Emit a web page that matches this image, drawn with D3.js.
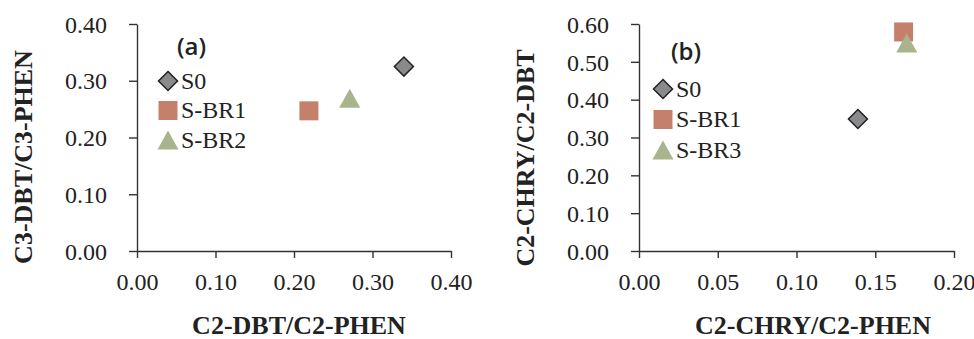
<!DOCTYPE html>
<html>
<head>
<meta charset="utf-8">
<script src="https://cdn.jsdelivr.net/npm/d3@7"></script>
<style>
  body { margin: 0; background: #fff; }
  svg { display: block; }
  .tick text { font-family: "Liberation Serif", "Times New Roman", serif; font-size: 24px; fill: #222; }
  .axis-title { font-family: "Liberation Serif", "Times New Roman", serif; font-size: 26px; font-weight: bold; fill: #222; }
  .legend text { font-family: "Liberation Serif", "Times New Roman", serif; font-size: 24px; fill: #222; }
  .panel-tag { font-family: "Open Sans", sans-serif; font-size: 24px; font-weight: 600; fill: #222; }
</style>
</head>
<body>
<div id="chart"></div>
<script>
const width = 974,
  height = 339;

// panel (a)
const namesA = ["S0", "S-BR1", "S-BR2"];
const xValuesA = [0.34, 0.219, 0.271];
const yValuesA = [0.325, 0.247, 0.269];
const xTicksA = [0, 0.1, 0.2, 0.3, 0.4];
const yTicksA = [0, 0.1, 0.2, 0.3, 0.4];

// panel (b)
const namesB = ["S0", "S-BR1", "S-BR3"];
const xValuesB = [0.139, 0.168, 0.17];
const yValuesB = [0.349, 0.579, 0.55];
const xTicksB = [0, 0.05, 0.1, 0.15, 0.2];
const yTicksB = [0, 0.1, 0.2, 0.3, 0.4, 0.5, 0.6];

const markerShapes = ["diamond", "square", "triangle"];
const markerFills = ["#8a8a8c", "#c4806b", "#a9b48c"];

const svg = d3
  .select("#chart")
  .append("svg")
  .attr("width", width)
  .attr("height", height);

function markerPath(shape) {
  if (shape === "diamond") return "M0,-10L10,0L0,10L-10,0Z";
  if (shape === "square") return "M-9.5,-9.5H9.5V9.5H-9.5Z";
  // triangle centred on its bounding box
  return "M0,-9.5L10.5,9.5L-10.5,9.5Z";
}

function drawMarker(g, shape, fill) {
  g.append("path")
    .attr("d", markerPath(shape))
    .attr("fill", fill)
    .attr("stroke", shape === "diamond" ? "#222" : "none")
    .attr("stroke-width", shape === "diamond" ? 1.6 : 0)
    .attr("transform", shape === "diamond" ? "scale(0.95)" : null);
}

function drawPanel(p) {
  const xScale = d3.scaleLinear().domain(p.xDomain).range([p.left, p.right]);
  const yScale = d3.scaleLinear().domain(p.yDomain).range([p.bottom, p.top]);

  const xAxis = d3.axisBottom(xScale)
    .tickValues(p.xTicks)
    .tickFormat(d3.format(".2f"))
    .tickSize(7)
    .tickSizeOuter(0)
    .tickPadding(10);
  const yAxis = d3.axisLeft(yScale)
    .tickValues(p.yTicks)
    .tickFormat(d3.format(".2f"))
    .tickSize(8)
    .tickSizeOuter(0)
    .tickPadding(22);

  const gx = svg.append("g")
    .attr("class", "axis x-axis")
    .attr("transform", `translate(0,${p.bottom})`)
    .call(xAxis);
  const gy = svg.append("g")
    .attr("class", "axis y-axis")
    .attr("transform", `translate(${p.left},0)`)
    .call(yAxis);

  [gx, gy].forEach(g => {
    g.select(".domain").attr("stroke", "#333").attr("stroke-width", 1.4);
    g.selectAll(".tick line").attr("stroke", "#333").attr("stroke-width", 1.4);
  });
  gx.selectAll(".tick text").attr("dy", "0.9em");
  gy.selectAll(".tick text").attr("dy", "0.34em").attr("text-anchor", "end");

  // axis titles
  svg.append("text")
    .attr("class", "axis-title")
    .attr("x", p.xTitleX)
    .attr("y", 334)
    .attr("text-anchor", "middle")
    .text(p.xTitle);
  svg.append("text")
    .attr("class", "axis-title")
    .attr("transform", `translate(${p.yTitleX},${p.yTitleY}) rotate(-90)`)
    .attr("text-anchor", "middle")
    .attr("dy", "0.35em")
    .text(p.yTitle);

  // points
  p.names.forEach((name, i) => {
    const g = svg.append("g")
      .attr("class", "dot")
      .attr("transform", `translate(${xScale(p.xValues[i])},${yScale(p.yValues[i])})`);
    drawMarker(g, markerShapes[i], markerFills[i]);
  });

  // legend
  svg.append("text")
    .attr("class", "panel-tag")
    .attr("x", p.tagX)
    .attr("y", p.tagY)
    .text(p.tag);

  const legend = svg.append("g").attr("class", "legend");
  p.names.forEach((name, i) => {
    const row = legend.append("g")
      .attr("transform", `translate(${p.legendX},${p.legendY + i * p.legendStep})`);
    drawMarker(row, markerShapes[i], markerFills[i]);
    row.append("text")
      .attr("x", 13)
      .attr("dy", "0.33em")
      .text(name);
  });
}

drawPanel({
  tag: "(a)",
  names: namesA,
  xValues: xValuesA,
  yValues: yValuesA,
  xTicks: xTicksA,
  yTicks: yTicksA,
  xDomain: [0, 0.4],
  yDomain: [0, 0.4],
  left: 137,
  right: 451,
  top: 24,
  bottom: 251,
  xTitle: "C2-DBT/C2-PHEN",
  yTitle: "C3-DBT/C3-PHEN",
  xTitleX: 299,
  yTitleX: 23,
  yTitleY: 157,
  tagX: 177,
  tagY: 55,
  legendX: 168,
  legendY: 81,
  legendStep: 29.5
});

drawPanel({
  tag: "(b)",
  names: namesB,
  xValues: xValuesB,
  yValues: yValuesB,
  xTicks: xTicksB,
  yTicks: yTicksB,
  xDomain: [0, 0.2],
  yDomain: [0, 0.6],
  left: 639,
  right: 954,
  top: 24,
  bottom: 251,
  xTitle: "C2-CHRY/C2-PHEN",
  yTitle: "C2-CHRY/C2-DBT",
  xTitleX: 813,
  yTitleX: 525,
  yTitleY: 158,
  tagX: 671,
  tagY: 60,
  legendX: 663,
  legendY: 89,
  legendStep: 30.5
});
</script>
</body>
</html>
